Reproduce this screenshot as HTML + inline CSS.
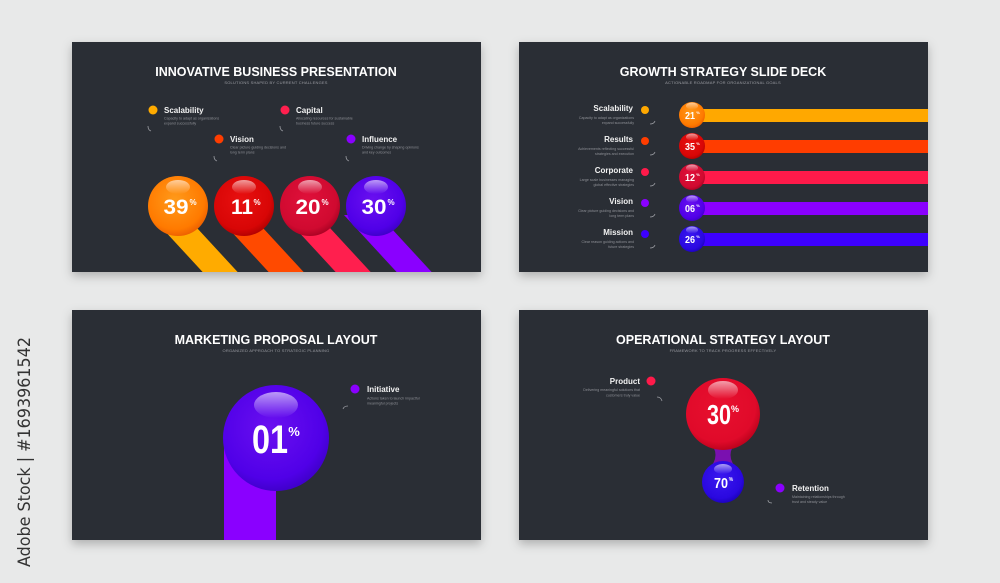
<!DOCTYPE html>
<html><head><meta charset="utf-8"><style>
html,body{margin:0;padding:0;background:#e8e9e9;}
svg{display:block;}
text{font-family:"Liberation Sans",sans-serif;}
.t{fill:#fff;font-weight:bold;font-size:12.5px;text-anchor:middle;}
.s{fill:#9a9ca2;font-size:4px;text-anchor:middle;letter-spacing:.2px;}
.l{fill:#f2f2f2;font-weight:bold;font-size:8px;}
.d{fill:#8e9096;font-size:3.6px;}
.n{fill:#fff;font-family:"Liberation Sans Narrow","Liberation Sans",sans-serif;font-weight:bold;text-anchor:middle;}
.c{fill:none;stroke:#9a9ca2;stroke-width:.8;}
</style></head><body>
<svg width="1000" height="583" viewBox="0 0 1000 583" xmlns="http://www.w3.org/2000/svg">
<defs>
<filter id="sh" x="-10%" y="-10%" width="120%" height="130%"><feDropShadow dx="0" dy="4" stdDeviation="5" flood-color="#000" flood-opacity=".25"/></filter>
<radialGradient id="gO" cx=".45" cy=".4" r=".65"><stop offset="0" stop-color="#ff9a1a"/><stop offset=".75" stop-color="#ff7a00"/><stop offset="1" stop-color="#e85800"/></radialGradient>
<radialGradient id="gR" cx=".45" cy=".4" r=".65"><stop offset="0" stop-color="#e81010"/><stop offset=".75" stop-color="#d80606"/><stop offset="1" stop-color="#a80000"/></radialGradient>
<radialGradient id="gP" cx=".45" cy=".4" r=".65"><stop offset="0" stop-color="#e0103a"/><stop offset=".75" stop-color="#d00a30"/><stop offset="1" stop-color="#a00020"/></radialGradient>
<radialGradient id="gV" cx=".45" cy=".4" r=".65"><stop offset="0" stop-color="#6a10f0"/><stop offset=".75" stop-color="#5000e8"/><stop offset="1" stop-color="#3a00c0"/></radialGradient>
<radialGradient id="gB" cx=".45" cy=".4" r=".65"><stop offset="0" stop-color="#3a18f0"/><stop offset=".75" stop-color="#2a08e0"/><stop offset="1" stop-color="#1800b0"/></radialGradient>
<radialGradient id="gR2" cx=".45" cy=".4" r=".65"><stop offset="0" stop-color="#e8102e"/><stop offset=".75" stop-color="#e00a2a"/><stop offset="1" stop-color="#b00018"/></radialGradient>
<linearGradient id="hl" x1="0" y1="0" x2="0" y2="1"><stop offset="0" stop-color="#fff" stop-opacity=".6"/><stop offset="1" stop-color="#fff" stop-opacity="0"/></linearGradient>
<clipPath id="p1"><rect x="72" y="42" width="409" height="230"/></clipPath>
<clipPath id="p2"><rect x="519" y="42" width="409" height="230"/></clipPath>
<clipPath id="p3"><rect x="72" y="310" width="409" height="230"/></clipPath>
</defs>

<text x="0" y="0" transform="translate(30,567) rotate(-90)" font-size="17" fill="#333" textLength="230" lengthAdjust="spacingAndGlyphs" style="font-family:'DejaVu Sans',sans-serif">Adobe Stock | #1693961542</text>

<g filter="url(#sh)">
<rect x="72" y="42" width="409" height="230" fill="#2b2e35"/>
<rect x="519" y="42" width="409" height="230" fill="#2b2e35"/>
<rect x="72" y="310" width="409" height="230" fill="#2b2e35"/>
<rect x="519" y="310" width="409" height="230" fill="#2b2e35"/>
</g>

<!-- Panel 1 -->
<text class="t" x="276" y="76">INNOVATIVE BUSINESS PRESENTATION</text>
<text class="s" x="276" y="84">SOLUTIONS SHAPED BY CURRENT CHALLENGES</text>
<g clip-path="url(#p1)">
<polygon points="150,215 185,215 245,280 210,280" fill="#ffab00"/>
<polygon points="216,215 251,215 311,280 276,280" fill="#ff4a00"/>
<polygon points="283,215 318,215 378,280 343,280" fill="#ff1f4e"/>
<polygon points="344,215 379,215 439,280 404,280" fill="#8a00ff"/>
</g>
<g>
<circle cx="178" cy="206" r="30" fill="url(#gO)"/><ellipse cx="178" cy="187" rx="12" ry="7" fill="url(#hl)"/>
<circle cx="244" cy="206" r="30" fill="url(#gR)"/><ellipse cx="244" cy="187" rx="12" ry="7" fill="url(#hl)"/>
<circle cx="310" cy="206" r="30" fill="url(#gP)"/><ellipse cx="310" cy="187" rx="12" ry="7" fill="url(#hl)"/>
<circle cx="376" cy="206" r="30" fill="url(#gV)"/><ellipse cx="376" cy="187" rx="12" ry="7" fill="url(#hl)"/>
<text class="n" x="176" y="214" font-size="21" textLength="25" lengthAdjust="spacingAndGlyphs">39</text><text class="n" x="193" y="205" font-size="8">%</text>
<text class="n" x="242" y="214" font-size="21" textLength="22" lengthAdjust="spacingAndGlyphs">11</text><text class="n" x="257" y="205" font-size="8">%</text>
<text class="n" x="308" y="214" font-size="21" textLength="25" lengthAdjust="spacingAndGlyphs">20</text><text class="n" x="325" y="205" font-size="8">%</text>
<text class="n" x="374" y="214" font-size="21" textLength="25" lengthAdjust="spacingAndGlyphs">30</text><text class="n" x="391" y="205" font-size="8">%</text>
</g>
<circle cx="153" cy="110" r="4.5" fill="#ffab00"/><text class="l" x="164" y="113">Scalability</text>
<text class="d" x="164" y="119.5">Capacity to adapt as organizations</text><text class="d" x="164" y="124.5">expand successfully</text>
<path class="c" d="M148,126 q0,4 3,5"/>
<circle cx="285" cy="110" r="4.5" fill="#ff1f4e"/><text class="l" x="296" y="113">Capital</text>
<text class="d" x="296" y="119.5">Allocating resources for sustainable</text><text class="d" x="296" y="124.5">business future success</text>
<path class="c" d="M280,126 q0,4 3,5"/>
<circle cx="219" cy="139" r="4.5" fill="#ff3d00"/><text class="l" x="230" y="142">Vision</text>
<text class="d" x="230" y="148.5">Clear picture guiding decisions and</text><text class="d" x="230" y="153.5">long term plans</text>
<path class="c" d="M214,156 q0,4 3,5"/>
<circle cx="351" cy="139" r="4.5" fill="#8a00ff"/><text class="l" x="362" y="142">Influence</text>
<text class="d" x="362" y="148.5">Driving change by shaping opinions</text><text class="d" x="362" y="153.5">and key outcomes</text>
<path class="c" d="M346,156 q0,4 3,5"/>

<!-- Panel 2 -->
<text class="t" x="723" y="76">GROWTH STRATEGY SLIDE DECK</text>
<text class="s" x="723" y="84">ACTIONABLE ROADMAP FOR ORGANIZATIONAL GOALS</text>
<g clip-path="url(#p2)">
<rect x="692" y="109" width="240" height="13" fill="#ffa800"/>
<rect x="692" y="140" width="240" height="13" fill="#ff3d00"/>
<rect x="692" y="171" width="240" height="13" fill="#ff1a4a"/>
<rect x="692" y="202" width="240" height="13" fill="#8a00ff"/>
<rect x="692" y="233" width="240" height="13" fill="#3d00ff"/>
</g>
<circle cx="692" cy="115" r="13" fill="url(#gO)"/><ellipse cx="692" cy="106" rx="6" ry="3.5" fill="url(#hl)"/>
<circle cx="692" cy="146" r="13" fill="url(#gR)"/><ellipse cx="692" cy="137" rx="6" ry="3.5" fill="url(#hl)"/>
<circle cx="692" cy="177" r="13" fill="url(#gP)"/><ellipse cx="692" cy="168" rx="6" ry="3.5" fill="url(#hl)"/>
<circle cx="692" cy="208" r="13" fill="url(#gV)"/><ellipse cx="692" cy="199" rx="6" ry="3.5" fill="url(#hl)"/>
<circle cx="692" cy="239" r="13" fill="url(#gB)"/><ellipse cx="692" cy="230" rx="6" ry="3.5" fill="url(#hl)"/>
<g font-size="10">
<text class="n" x="690" y="119" font-size="10" textLength="10" lengthAdjust="spacingAndGlyphs">21</text><text class="n" x="698" y="114" font-size="4">%</text>
<text class="n" x="690" y="150" font-size="10" textLength="10" lengthAdjust="spacingAndGlyphs">35</text><text class="n" x="698" y="145" font-size="4">%</text>
<text class="n" x="690" y="181" font-size="10" textLength="10" lengthAdjust="spacingAndGlyphs">12</text><text class="n" x="698" y="176" font-size="4">%</text>
<text class="n" x="690" y="212" font-size="10" textLength="10" lengthAdjust="spacingAndGlyphs">06</text><text class="n" x="698" y="207" font-size="4">%</text>
<text class="n" x="690" y="243" font-size="10" textLength="10" lengthAdjust="spacingAndGlyphs">26</text><text class="n" x="698" y="238" font-size="4">%</text>
</g>
<text class="l" x="633" y="111" text-anchor="end">Scalability</text><circle cx="645" cy="110" r="4" fill="#ffa800"/>
<text class="d" x="634" y="119" text-anchor="end">Capacity to adapt as organizations</text><text class="d" x="634" y="124" text-anchor="end">expand successfully</text>
<text class="l" x="633" y="142" text-anchor="end">Results</text><circle cx="645" cy="141" r="4" fill="#ff3d00"/>
<text class="d" x="634" y="150" text-anchor="end">Achievements reflecting successful</text><text class="d" x="634" y="155" text-anchor="end">strategies and execution</text>
<text class="l" x="633" y="173" text-anchor="end">Corporate</text><circle cx="645" cy="172" r="4" fill="#ff1a4a"/>
<text class="d" x="634" y="181" text-anchor="end">Large scale businesses managing</text><text class="d" x="634" y="186" text-anchor="end">global effective strategies</text>
<text class="l" x="633" y="204" text-anchor="end">Vision</text><circle cx="645" cy="203" r="4" fill="#8a00ff"/>
<text class="d" x="634" y="212" text-anchor="end">Clear picture guiding decisions and</text><text class="d" x="634" y="217" text-anchor="end">long term plans</text>
<text class="l" x="633" y="235" text-anchor="end">Mission</text><circle cx="645" cy="234" r="4" fill="#3d00ff"/>
<text class="d" x="634" y="243" text-anchor="end">Clear reason guiding actions and</text><text class="d" x="634" y="248" text-anchor="end">future strategies</text>
<path class="c" d="M650,124 q4,0 5,-3 M650,155 q4,0 5,-3 M650,186 q4,0 5,-3 M650,217 q4,0 5,-3 M650,248 q4,0 5,-3"/>

<!-- Panel 3 -->
<text class="t" x="276" y="344">MARKETING PROPOSAL LAYOUT</text>
<text class="s" x="276" y="352">ORGANIZED APPROACH TO STRATEGIC PLANNING</text>
<g clip-path="url(#p3)"><rect x="224" y="440" width="52" height="100" fill="#8a00ff"/></g>
<ellipse cx="276" cy="438" rx="53" ry="53" fill="url(#gV)"/>
<ellipse cx="276" cy="405" rx="22" ry="13" fill="url(#hl)"/>
<text class="n" x="270" y="453" font-size="40" textLength="36" lengthAdjust="spacingAndGlyphs">01</text><text class="n" x="294" y="436" font-size="13">%</text>
<circle cx="355" cy="389" r="4.5" fill="#8a00ff"/><text class="l" x="367" y="392">Initiative</text>
<text class="d" x="367" y="399.5">Actions taken to launch impactful</text><text class="d" x="367" y="404.5">meaningful projects</text>
<path class="c" d="M343,409 q1,-3 5,-3"/>

<!-- Panel 4 -->
<text class="t" x="723" y="344">OPERATIONAL STRATEGY LAYOUT</text>
<text class="s" x="723" y="352">FRAMEWORK TO TRACK PROGRESS EFFECTIVELY</text>
<path d="M708,440 Q723,455 708,470 L738,470 Q723,455 738,440 Z" fill="#7a10b0"/>
<circle cx="723" cy="482" r="21" fill="url(#gB)"/>
<ellipse cx="723" cy="469" rx="9" ry="5" fill="url(#hl)"/>
<text class="n" x="721" y="488" font-size="15" textLength="14" lengthAdjust="spacingAndGlyphs">70</text><text class="n" x="731" y="481" font-size="5">%</text>
<ellipse cx="723" cy="414" rx="37" ry="36" fill="url(#gR2)"/>
<ellipse cx="723" cy="390" rx="15" ry="9" fill="url(#hl)"/>
<text class="n" x="719" y="424" font-size="28" textLength="24" lengthAdjust="spacingAndGlyphs">30</text><text class="n" x="735" y="412" font-size="9">%</text>
<text class="l" x="640" y="384" text-anchor="end">Product</text><circle cx="651" cy="381" r="4.5" fill="#ff1a4a"/>
<text class="d" x="640" y="391" text-anchor="end">Delivering meaningful solutions that</text><text class="d" x="640" y="396.5" text-anchor="end">customers truly value</text>
<path class="c" d="M657,397 q4,0 5,4"/>
<circle cx="780" cy="488" r="4.5" fill="#8a00ff"/><text class="l" x="792" y="491">Retention</text>
<text class="d" x="792" y="498">Maintaining relationships through</text><text class="d" x="792" y="503">trust and steady value</text>
<path class="c" d="M768,500 q0,3 4,3"/>
</svg>
</body></html>
